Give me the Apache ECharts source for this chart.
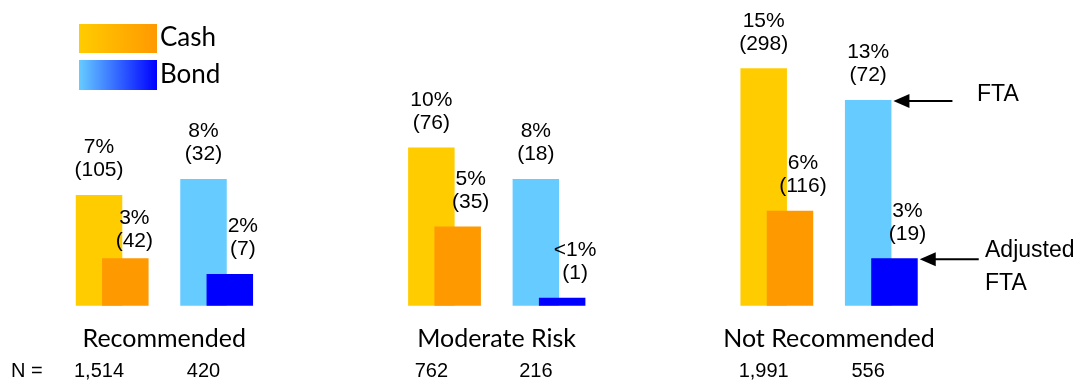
<!DOCTYPE html>
<html>
<head>
<meta charset="utf-8">
<script src="https://cdn.jsdelivr.net/npm/echarts@6/dist/echarts.min.js"></script>
<style>
  html, body { margin: 0; padding: 0; background: #fff; }
  #chart { width: 1083px; height: 383px; }
</style>
</head>
<body>
<div id="chart"></div>
<script>
// data
var categories = ['Recommended', 'Moderate Risk', 'Not Recommended']
var cashFTA = [7, 10, 15]
var cashFTACount = [105, 76, 298]
var cashAdj = [3, 5, 6]
var cashAdjCount = [42, 35, 116]
var bondFTA = [8, 8, 13]
var bondFTACount = [32, 18, 72]
var bondAdj = [2, 0.5, 3]
var bondAdjCount = [7, 1, 19]
var cashN = [1514, 762, 1991]
var bondN = [420, 216, 556]

var numFont = '"Liberation Sans", Arial, sans-serif'
var txtFont = 'Lato, "Open Sans", sans-serif'
var BAR_W = 46.5
var HALF = 52.25 // half distance between cash and bond bar centres

function pctText(v) {
    return v < 1 ? '<1%' : v + '%'
}

function labelOf(counts, extra) {
    return Object.assign({
        show: true,
        position: 'top',
        distance: 13,
        color: '#000',
        fontFamily: numFont,
        fontSize: 21,
        lineHeight: 23,
        formatter: function(p) {
            return pctText(p.value) + '\n(' + counts[p.dataIndex] + ')'
        }
    }, extra || {})
}

var gridBase = { top: 68.3, bottom: 77.3, width: 997, outerBoundsMode: 'none', containLabel: false }

var chart = echarts.init(document.getElementById('chart'))
var option = {
    animation: false,
    grid: [
        Object.assign({ left: -14.9 }, gridBase),
        Object.assign({ left: 11.4 }, gridBase)
    ],
    xAxis: [
        {
            type: 'category', gridIndex: 0, data: categories,
            axisLine: { show: false }, axisTick: { show: false },
            // names sit a bit right of the group centre
            axisLabel: { interval: 0, margin: 21, padding: [0, 0, 0, 26], color: '#000', fontFamily: txtFont, fontSize: 25 }
        },
        { type: 'category', gridIndex: 1, data: categories, show: false }
    ],
    yAxis: [
        { type: 'value', gridIndex: 0, min: 0, max: 15, show: false, splitLine: { show: false } },
        { type: 'value', gridIndex: 1, min: 0, max: 15, show: false, splitLine: { show: false } }
    ],
    series: [
        {
            name: 'Cash FTA', type: 'bar', xAxisIndex: 0, yAxisIndex: 0,
            barWidth: BAR_W, barGap: '124.7%',
            itemStyle: { color: '#FFCC00' },
            label: labelOf(cashFTACount),
            data: cashFTA
        },
        {
            name: 'Bond FTA', type: 'bar', xAxisIndex: 0, yAxisIndex: 0,
            barWidth: BAR_W, barGap: '124.7%',
            itemStyle: { color: '#66CCFF' },
            label: labelOf(bondFTACount),
            data: bondFTA
        },
        {
            name: 'Cash Adjusted', type: 'bar', xAxisIndex: 1, yAxisIndex: 1,
            barWidth: BAR_W, barGap: '124.7%',
            itemStyle: { color: '#FF9900' },
            label: labelOf(cashAdjCount, { offset: [13, 0] }),
            data: cashAdj.map(function(v, i) {
                // first one sits lower in the original
                return i === 0 ? { value: v, label: { distance: 6, offset: [9, 0] } } : v
            })
        },
        {
            name: 'Bond Adjusted', type: 'bar', xAxisIndex: 1, yAxisIndex: 1,
            barWidth: BAR_W, barGap: '124.7%',
            itemStyle: { color: '#0000FF' },
            label: labelOf(bondAdjCount, { offset: [13, 0] }),
            data: bondAdj
        }
    ]
}
chart.setOption(option)

// extra texts/arrows placed with the chart's own scales
function addGraphics() {
    var g = []
    // legend
    g.push({
        type: 'rect', left: 79, top: 24, shape: { width: 78, height: 29 },
        style: { fill: new echarts.graphic.LinearGradient(0, 0, 1, 0, [{ offset: 0, color: '#FFCC00' }, { offset: 1, color: '#FF9900' }]) }
    })
    g.push({
        type: 'rect', left: 79, top: 60, shape: { width: 78, height: 30 },
        style: { fill: new echarts.graphic.LinearGradient(0, 0, 1, 0, [{ offset: 0, color: '#66CCFF' }, { offset: 1, color: '#0000FF' }]) }
    })
    g.push({ type: 'text', x: 160, y: 38, style: { text: 'Cash', fill: '#000', font: '26px ' + txtFont, verticalAlign: 'middle' } })
    g.push({ type: 'text', x: 160, y: 75, style: { text: 'Bond', fill: '#000', font: '26px ' + txtFont, verticalAlign: 'middle' } })

    // N row
    var nY = 371.5
    g.push({ type: 'text', x: 11, y: nY, style: { text: 'N =', fill: '#000', font: '20px ' + numFont, verticalAlign: 'middle' } })
    categories.forEach(function(c, i) {
        var cx = chart.convertToPixel({ xAxisIndex: 0 }, c)
        g.push({ type: 'text', x: cx - HALF, y: nY, style: { text: cashN[i].toLocaleString('en-US'), fill: '#000', font: '20px ' + numFont, align: 'center', verticalAlign: 'middle' } })
        g.push({ type: 'text', x: cx + HALF, y: nY, style: { text: bondN[i].toLocaleString('en-US'), fill: '#000', font: '20px ' + numFont, align: 'center', verticalAlign: 'middle' } })
    })

    // arrows on the last group
    var last = categories.length - 1
    function arrow(tipX, y) {
        g.push({ type: 'polygon', shape: { points: [[tipX, y], [tipX + 16, y - 7], [tipX + 16, y + 7]] }, style: { fill: '#000' } })
        g.push({ type: 'line', shape: { x1: tipX + 14, y1: y, x2: tipX + 59, y2: y }, style: { stroke: '#000', lineWidth: 2 } })
    }
    var x0 = chart.convertToPixel({ xAxisIndex: 0 }, categories[last]) + HALF + BAR_W / 2 + 2
    var y0 = chart.convertToPixel({ yAxisIndex: 0 }, bondFTA[last]) + 1
    arrow(x0, y0)
    g.push({ type: 'text', x: 977, y: y0 - 6, style: { text: 'FTA', fill: '#000', font: '23px ' + numFont, verticalAlign: 'middle' } })

    var x1 = chart.convertToPixel({ xAxisIndex: 1 }, categories[last]) + HALF + BAR_W / 2 + 2
    var y1 = chart.convertToPixel({ yAxisIndex: 1 }, bondAdj[last]) + 1
    arrow(x1, y1)
    g.push({ type: 'text', x: 985, y: y1 + 8, style: { text: 'Adjusted\nFTA', fill: '#000', font: '23px ' + numFont, lineHeight: 33, verticalAlign: 'middle' } })

    chart.setOption({ graphic: g })
}
addGraphics()
</script>
</body>
</html>
